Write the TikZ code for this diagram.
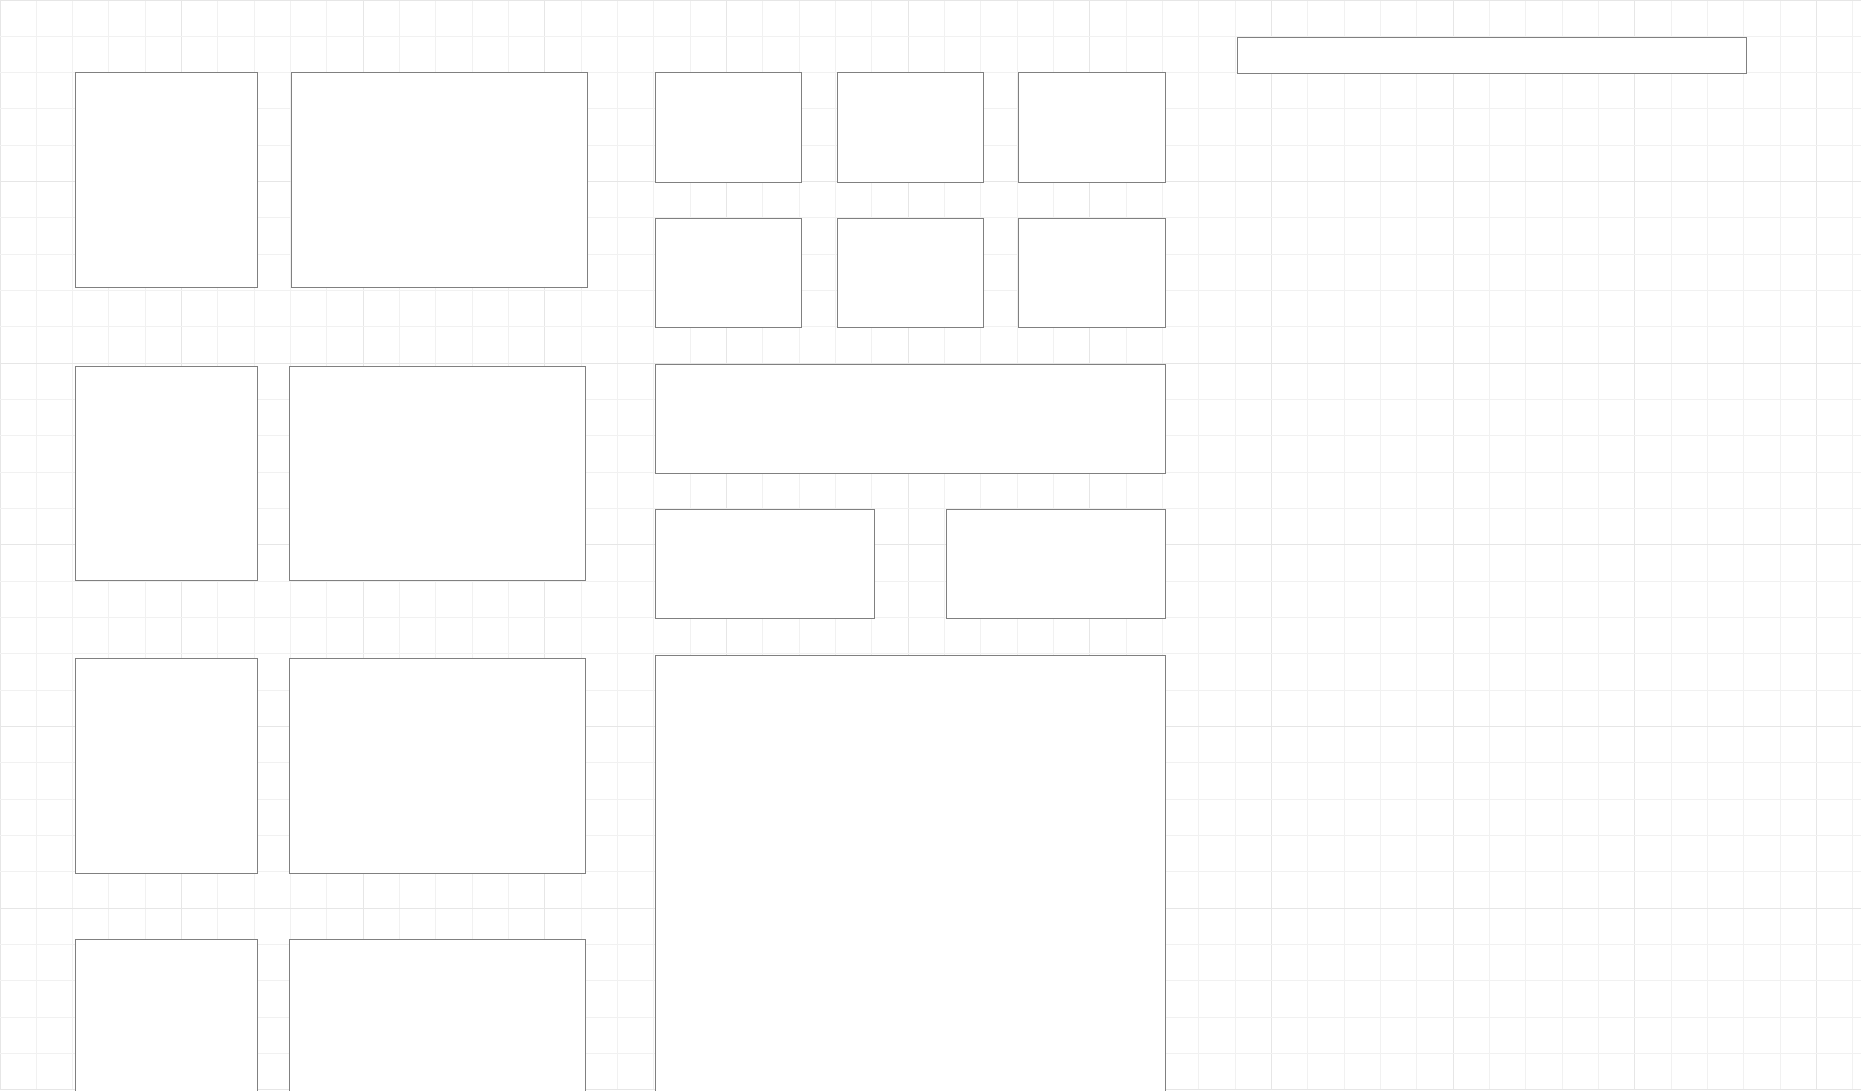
\documentclass[tikz,border=0pt]{standalone}
\usetikzlibrary{fit}
\definecolor{gridminor}{HTML}{F1F1F1}
\definecolor{gridmajor}{HTML}{E6E6E6}
\definecolor{boxline}{HTML}{808080}
\tikzset{
  minorline/.style={draw=gridminor, line width=0.014cm},
  majorline/.style={draw=gridmajor, line width=0.014cm},
  box/.style={draw=boxline, fill=white, line width=0.013cm, inner sep=0pt, outer sep=0pt, rectangle}
}
\begin{document}
\begin{tikzpicture}[x=0.01cm, y=-0.01cm]
\useasboundingbox (0,0) rectangle (1861,1090);
\clip (0,0) rectangle (1861,1090);
\fill[white] (0,0) rectangle (1861,1090);
% grid
\foreach \k in {0,...,51} {
  \pgfmathtruncatemacro{\m}{mod(\k,5)}
  \pgfmathsetmacro{\p}{floor(\k*36.3333)+0.5}
  \ifnum\m=0\relax
    \draw[majorline] (\p,0) -- (\p,1090);
  \else
    \draw[minorline] (\p,0) -- (\p,1090);
  \fi
}
\foreach \k in {0,...,30} {
  \pgfmathtruncatemacro{\m}{mod(\k,5)}
  \pgfmathsetmacro{\p}{floor(\k*36.3333)+0.5}
  \ifnum\m=0\relax
    \draw[majorline] (0,\p) -- (1861,\p);
  \else
    \draw[minorline] (0,\p) -- (1861,\p);
  \fi
}
% left columns
\node[box, fit={(75.5,72.5) (257.5,287.5)}] (a1) {};
\node[box, fit={(291.5,72.5) (587.5,287.5)}] (b1) {};
\node[box, fit={(75.5,366.5) (257.5,580.5)}] (a2) {};
\node[box, fit={(289.5,366.5) (585.5,580.5)}] (b2) {};
\node[box, fit={(75.5,658.5) (257.5,873.5)}] (a3) {};
\node[box, fit={(289.5,658.5) (585.5,873.5)}] (b3) {};
\node[box, fit={(75.5,939.5) (257.5,1200)}] (a4) {};
\node[box, fit={(289.5,939.5) (585.5,1200)}] (b4) {};
% small grid
\node[box, fit={(655.5,72.5) (801.5,182.5)}] (s11) {};
\node[box, fit={(837.5,72.5) (983.5,182.5)}] (s12) {};
\node[box, fit={(1018.5,72.5) (1165.5,182.5)}] (s13) {};
\node[box, fit={(655.5,218.5) (801.5,327.5)}] (s21) {};
\node[box, fit={(837.5,218.5) (983.5,327.5)}] (s22) {};
\node[box, fit={(1018.5,218.5) (1165.5,327.5)}] (s23) {};
% wide and pair
\node[box, fit={(655.5,364.5) (1165.5,473.5)}] (wide) {};
\node[box, fit={(655.5,509.5) (874.5,618.5)}] (p1) {};
\node[box, fit={(946.5,509.5) (1165.5,618.5)}] (p2) {};
% big
\node[box, fit={(655.5,655.5) (1165.5,1200)}] (big) {};
% top bar
\node[box, fit={(1237.5,37.5) (1746.5,73.5)}] (bar) {};
\end{tikzpicture}
\end{document}
